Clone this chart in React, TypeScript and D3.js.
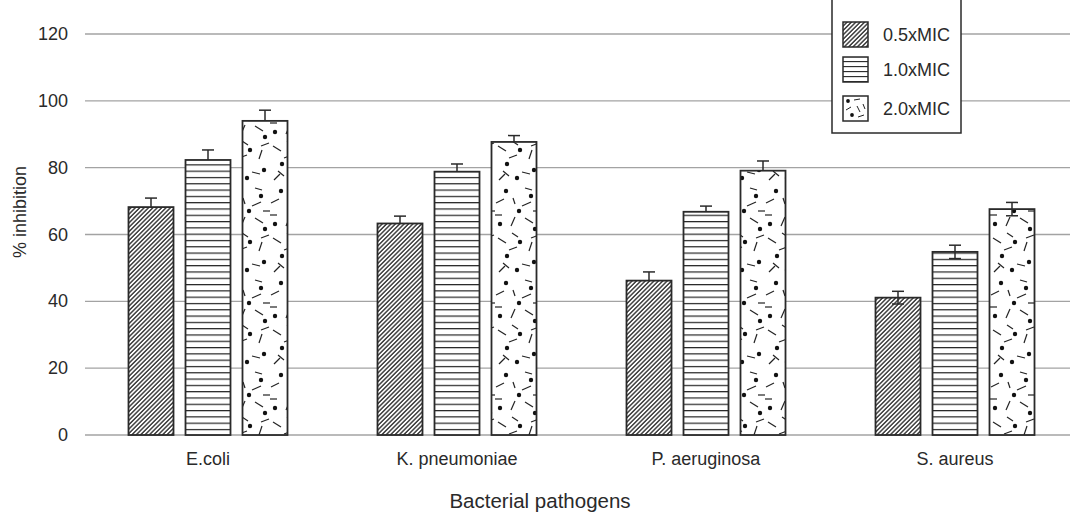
import React from "react";
import * as d3 from "d3";

const categories = ["E.coli", "K. pneumoniae", "P. aeruginosa", "S. aureus"];
const seriesNames = ["0.5xMIC", "1.0xMIC", "2.0xMIC"];
const mic05 = [68.2, 63.3, 46.2, 41.1];
const mic10 = [82.3, 78.8, 66.8, 54.8];
const mic20 = [94.0, 87.7, 79.1, 67.6];
const err05 = [2.7, 2.2, 2.6, 1.9];
const err10 = [3.0, 2.3, 1.7, 2.0];
const err20 = [3.2, 1.9, 2.9, 2.0];
const showLowerWhisker = [false, false, false, true];
const yTicks = [0, 20, 40, 60, 80, 100, 120];

const W = 1084;
const H = 516;
const FONT = "'Liberation Sans', Arial, Helvetica, sans-serif";
const INK = "#2a2a2a";

const values = [mic05, mic10, mic20];
const errors = [err05, err10, err20];
const fills = ["url(#hatch)", "url(#hlines)", "url(#speckle)"];
const legendFills = ["url(#hatch)", "url(#hlinesL)", "url(#speckleL)"];

// speckle pattern decoration (dots and short dashes)
const specDots: [number, number][] = [
  [11, 7], [36, 12], [24, 27], [5, 40], [40, 45], [25, 58], [12, 72], [39, 78], [22, 86],
];
const specDashes: [number, number, number, number][] = [
  [1, 19, 9, 15], [27, 22, 36, 18], [16, 42, 20, 33], [30, 34, 38, 39],
  [3, 54, 11, 59], [34, 67, 37, 58], [14, 66, 22, 63], [27, 80, 35, 82],
  [0, 31, 7, 31], [38, 27, 45, 27], [17, 49, 23, 53], [4, 88, 10, 82],
  [30, 4, 37, 6], [18, 14, 20, 20], [36, 54, 44, 51], [8, 79, 14, 84],
];

export default function App() {
  const x = d3.scaleBand<string>().domain(categories).range([83.5, 1079.5]).padding(0);
  const y = d3.scaleLinear().domain([0, 120]).range([435, 34]);
  const barW = 45;
  const pitch = 57;
  const gridX0 = 85;
  const gridX1 = 1070;

  return (
    <svg
      width={W}
      height={H}
      viewBox={`0 0 ${W} ${H}`}
      style={{ position: "absolute", left: 0, top: 0, background: "#fff" }}
      fontFamily={FONT}
    >
      <defs>
        <pattern id="hatch" patternUnits="userSpaceOnUse" width={3.1} height={3.1} patternTransform="rotate(45)">
          <rect width={3.1} height={3.1} fill="#fff" />
          <line x1={0.8} y1={-1} x2={0.8} y2={5} stroke="#111" strokeWidth={1.2} />
        </pattern>
        <pattern id="hlines" patternUnits="userSpaceOnUse" width={10} height={6.3} y={0.5}>
          <rect width={10} height={6.3} fill="#fff" />
          <line x1={0} y1={0.6} x2={10} y2={0.6} stroke="#222" strokeWidth={1.2} />
        </pattern>
        <pattern id="hlinesL" patternUnits="userSpaceOnUse" width={10} height={5} y={1}>
          <rect width={10} height={5} fill="#fff" />
          <line x1={0} y1={0.6} x2={10} y2={0.6} stroke="#222" strokeWidth={1.1} />
        </pattern>
        <pattern id="speckle" patternUnits="userSpaceOnUse" width={45} height={92}>
          <rect width={45} height={92} fill="#fff" />
          {specDots.map(([cx, cy], i) => (
            <circle key={i} cx={cx} cy={cy} r={2.2} fill="#111" />
          ))}
          {specDashes.map(([a, b, c, d], i) => (
            <line key={i} x1={a} y1={b} x2={c} y2={d} stroke="#222" strokeWidth={1.2} />
          ))}
        </pattern>
        <pattern id="speckleL" patternUnits="userSpaceOnUse" width={25} height={25} x={843} y={96}>
          <rect width={25} height={25} fill="#fff" />
          <circle cx={5} cy={5} r={1.9} fill="#111" />
          <circle cx={9} cy={19} r={1.9} fill="#111" />
          <line x1={11} y1={4} x2={17} y2={3} stroke="#222" strokeWidth={1} />
          <line x1={14} y1={10} x2={17} y2={16} stroke="#222" strokeWidth={1} />
          <line x1={3} y1={14} x2={8} y2={11} stroke="#222" strokeWidth={1} />
          <line x1={15} y1={21} x2={21} y2={19} stroke="#222" strokeWidth={1} />
          <line x1={20} y1={8} x2={22} y2={13} stroke="#222" strokeWidth={1} />
        </pattern>
      </defs>

      {/* gridlines */}
      {yTicks.map((t) => (
        <g key={t}>
          <line x1={gridX0} x2={gridX1} y1={y(t)} y2={y(t)} stroke="#a3a3a3" strokeWidth={1.3} />
          <text x={68} y={y(t)} textAnchor="end" dominantBaseline="central" fontSize={18} fill={INK}>
            {t}
          </text>
        </g>
      ))}

      {/* bars */}
      {categories.map((c, ci) => {
        const cx = (x(c) as number) + x.bandwidth() / 2;
        return (
          <g key={c}>
            {seriesNames.map((s, si) => {
              const v = values[si][ci];
              const e = errors[si][ci];
              const bx = cx + (si - 1) * pitch - barW / 2;
              const bc = bx + barW / 2;
              return (
                <g key={s}>
                  <rect x={bx} y={y(v)} width={barW} height={y(0) - y(v)} fill={fills[si]} stroke={INK} strokeWidth={1.8} />
                  <line x1={bc} x2={bc} y1={y(v)} y2={y(v + e)} stroke={INK} strokeWidth={1.5} />
                  <line x1={bc - 6} x2={bc + 6} y1={y(v + e)} y2={y(v + e)} stroke={INK} strokeWidth={1.5} />
                  {showLowerWhisker[ci] && (
                    <>
                      <line x1={bc} x2={bc} y1={y(v)} y2={y(v - e)} stroke={INK} strokeWidth={1.5} />
                      <line x1={bc - 6} x2={bc + 6} y1={y(v - e)} y2={y(v - e)} stroke={INK} strokeWidth={1.5} />
                    </>
                  )}
                </g>
              );
            })}
            <text x={cx} y={459} textAnchor="middle" dominantBaseline="central" fontSize={18} fill={INK}>
              {c}
            </text>
          </g>
        );
      })}

      {/* axis titles */}
      <text x={540} y={500} textAnchor="middle" dominantBaseline="central" fontSize={20.5} fill={INK}>
        Bacterial pathogens
      </text>
      <text
        transform={`translate(20,212) rotate(-90)`}
        textAnchor="middle"
        dominantBaseline="central"
        fontSize={18}
        fill={INK}
      >
        % inhibition
      </text>

      {/* legend */}
      <rect x={832} y={-2} width={129} height={135} fill="#fff" stroke={INK} strokeWidth={1.5} />
      {seriesNames.map((s, i) => {
        const sy = [22, 57, 96][i];
        return (
          <g key={s}>
            <rect x={843} y={sy} width={25} height={25} fill={legendFills[i]} stroke={INK} strokeWidth={1.5} />
            <text x={883} y={sy + 13} dominantBaseline="central" fontSize={18} fill={INK}>
              {s}
            </text>
          </g>
        );
      })}
    </svg>
  );
}
